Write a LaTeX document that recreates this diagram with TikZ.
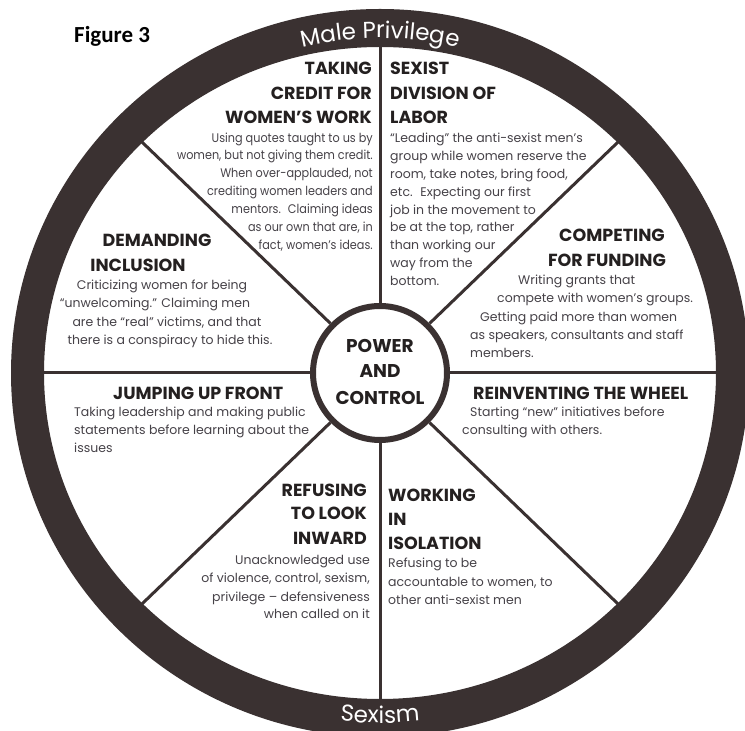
\documentclass[tikz,border=0pt]{standalone}
\usepackage{fontspec}
\newfontfamily\pop{Poppins}
\newfontfamily\carl{Carlito}
\usetikzlibrary{decorations.text,calc}
\definecolor{ringc}{RGB}{58,49,49}
\definecolor{titlec}{RGB}{36,32,32}
\definecolor{bodyc}{RGB}{70,66,72}
\begin{document}
\begin{tikzpicture}[x=1pt,y=1pt,
  title/.style={font=\pop\bfseries\fontsize{17.5}{22}\selectfont, text=titlec, inner sep=0pt},
  hubtext/.style={font=\pop\bfseries\fontsize{18.5}{22}\selectfont, text=titlec, inner sep=0pt, anchor=base},
  body/.style={font=\pop\fontsize{12.5}{18}\selectfont, text=bodyc, inner sep=0pt},
  spoke/.style={draw=ringc, line width=3pt},
  hub/.style={circle, draw=ringc, line width=6pt, minimum size=134pt, inner sep=0pt, fill=white}]
\useasboundingbox (0,0) rectangle (745,731);
\clip (0,0) rectangle (745,731);
\fill[white] (0,0) rectangle (745,731);
\coordinate (C) at (380,358);
% ring
\fill[ringc, even odd rule] (C) ellipse [x radius=369, y radius=364] (C) ellipse [x radius=336, y radius=326];
% hub and spokes
\node[hub] (hub) at (C) {};
\foreach \a in {0,45,...,315}
  \draw[spoke] (hub.\a) -- ($(C)+(\a:337 and 327)$);
% ring texts
\path[decorate, decoration={text along path, text align=center, text color=white,
  text={|\pop\fontsize{23}{23}\selectfont|Male Privilege}}]
  ($(C)+(125:335)$) arc[start angle=125, end angle=55, radius=335];
\path[decorate, decoration={text along path, text align=center, text color=white,
  text={|\pop\fontsize{23}{23}\selectfont|Sexism}}]
  ($(C)+(245:350)$) arc[start angle=245, end angle=295, radius=350];
% figure label
\node[font=\carl\bfseries\fontsize{23}{23}\selectfont, anchor=base west, inner sep=0pt] (fig) at (74,688) {Figure 3};
% hub text
\node[hubtext] (pw1) at (380,378) {POWER};
\node[hubtext] (pw2) at (380,353) {AND};
\node[hubtext] (pw3) at (380,326) {CONTROL};
% Block A
\foreach \t/\y [count=\i] in {TAKING/656,{CREDIT FOR}/631,{WOMEN’S WORK}/607}
  \node[title, anchor=base east] (at\i) at (372,\y) {\t};
\foreach \t/\y [count=\i] in {{Using quotes taught to us by}/588,{women, but not giving them credit.}/571,
  {When over-applauded, not}/553,{crediting women leaders and}/535,{mentors.~ Claiming ideas}/517,
  {as our own that are, in}/499,{fact, women’s ideas.}/481}
  \node[body, anchor=base east] (ab\i) at (373,\y) {\scalebox{0.9}[1]{\t}};
% Block B
\foreach \t/\y [count=\i] in {SEXIST/656,{DIVISION OF}/631,LABOR/607}
  \node[title, anchor=base west] (bt\i) at (390,\y) {\t};
\foreach \t/\y [count=\i] in {{“Leading” the anti-sexist men’s}/588,{group while women reserve the}/570,
  {room, take notes, bring food,}/552,{etc.~ Expecting our first}/534,{job in the movement to}/516,
  {be at the top, rather}/499,{than working our}/481,{way from the}/463,{bottom.}/445}
  \node[body, anchor=base west] (bb\i) at (390,\y) {\t};
% Block C
\node[title, anchor=base] (ct1) at (157,484) {DEMANDING};
\node[title, anchor=base] (ct2) at (138,459) {INCLUSION};
\foreach \t/\x/\y [count=\i] in {{Criticizing women for being}/162/441,{“unwelcoming.” Claiming men}/155/423,
  {are the “real” victims, and that}/167/404,{there is a conspiracy to hide this.}/170/386}
  \node[body, anchor=base] (cb\i) at (\x,\y) {\t};
% Block D
\node[title, anchor=base west] (dt1) at (113,331) {JUMPING UP FRONT};
\foreach \t/\y [count=\i] in {{Taking leadership and making public}/314,{statements before learning about the}/296,issues/278}
  \node[body, anchor=base west] (db\i) at (74,\y) {\t};
% Block E
\node[title, anchor=base] (et1) at (612,489) {COMPETING};
\node[title, anchor=base] (et2) at (607,464) {FOR FUNDING};
\foreach \t/\x/\y [count=\i] in {{Writing grants that}/518/446,{compete with women’s groups.}/497/428,
  {Getting paid more than women}/480/409,{as speakers, consultants and staff}/470/391,{members.}/470/373}
  \node[body, anchor=base west] (eb\i) at (\x,\y) {\t};
% Block F
\node[title, anchor=base west] (ft1) at (473,331) {REINVENTING THE WHEEL};
\node[body, anchor=base west] (fb1) at (470,314) {Starting “new” initiatives before};
\node[body, anchor=base west] (fb2) at (462,296) {consulting with others.};
% Block G
\foreach \t/\y [count=\i] in {REFUSING/234,{TO LOOK}/211,INWARD/186}
  \node[title, anchor=base east] (gt\i) at (367,\y) {\t};
\foreach \t/\y [count=\i] in {{Unacknowledged use}/166,{of violence, control, sexism,}/148,
  {privilege – defensiveness}/129,{when called on it}/112}
  \node[body, anchor=base east] (gb\i) at (370,\y) {\t};
% Block H
\foreach \t/\y [count=\i] in {WORKING/229,IN/205,ISOLATION/181}
  \node[title, anchor=base west] (ht\i) at (388,\y) {\t};
\foreach \t/\y [count=\i] in {{Refusing to be}/163,{accountable to women, to}/144,{other anti-sexist men}/126}
  \node[body, anchor=base west] (hb\i) at (388,\y) {\t};
\end{tikzpicture}
\end{document}
